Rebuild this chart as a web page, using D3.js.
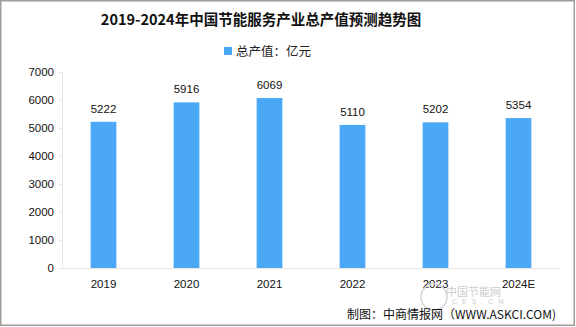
<!DOCTYPE html>
<html><head><meta charset="utf-8">
<script src="https://cdn.jsdelivr.net/npm/d3@7"></script>
<style>body{margin:0;background:#fff}svg{display:block}</style>
</head><body>
<script>
const categories = ["2019","2020","2021","2022","2023","2024E"];
const values = [5222,5916,6069,5110,5202,5354];
const yTicks = [0,1000,2000,3000,4000,5000,6000,7000];
const title = "2019-2024年中国节能服务产业总产值预测趋势图";
const legendLabel = "总产值：亿元";
const source = "制图：中商情报网（WWW.ASKCI.COM)";

const W=576,H=327;
const svg=d3.select("body").append("svg").attr("width",W).attr("height",H);
svg.append("rect").attr("x",0.75).attr("y",0.75).attr("width",W-2.5).attr("height",H-2.5)
  .attr("fill","#fff").attr("stroke","#a09d99").attr("stroke-width",1.5);

const x=d3.scaleBand().domain(categories).range([62,560]).paddingInner(0.69).paddingOuter(0.345);
const y=d3.scaleLinear().domain([0,7000]).range([268,72]);
const cjk="'Noto Sans CJK SC','Noto Sans',sans-serif";
const num="'Liberation Sans',Arial,sans-serif";

svg.append("text").attr("x",261).attr("y",25).attr("text-anchor","middle")
  .attr("font-family",cjk).attr("font-weight","bold").attr("font-size",14.5).attr("fill","#111").text(title);

const lg=svg.append("g");
lg.append("rect").attr("x",224).attr("y",47).attr("width",8).attr("height",8).attr("fill","#4BA8F7");
lg.append("text").attr("x",236).attr("y",56).attr("font-family",cjk).attr("font-size",12.5).attr("fill","#222").text(legendLabel);

// axes
const ya=svg.append("g").attr("transform","translate(62,0)")
  .call(d3.axisLeft(y).tickValues(yTicks).tickSize(3).tickFormat(d3.format("d")));
ya.select(".domain").attr("stroke","#ece6dc");
ya.selectAll(".tick line").attr("stroke","#ece6dc");
ya.selectAll("text").attr("font-family",num).attr("font-size",11.5).attr("fill","#111").attr("dx",-2);

const xa=svg.append("g").attr("transform","translate(0,268)")
  .call(d3.axisBottom(x).tickSize(0).tickPadding(12));
xa.select(".domain").attr("stroke","#ece6dc").attr("d","M62,0.5H560");
xa.selectAll("text").attr("font-family",num).attr("font-size",11.5).attr("fill","#111");

svg.append("g").selectAll("rect").data(values).join("rect")
  .attr("x",(d,i)=>x(categories[i])).attr("width",x.bandwidth())
  .attr("y",d=>y(d)).attr("height",d=>y(0)-y(d)).attr("fill","#4BA8F7");

svg.append("g").selectAll("text").data(values).join("text")
  .attr("x",(d,i)=>x(categories[i])+x.bandwidth()/2).attr("y",d=>y(d)-9)
  .attr("text-anchor","middle").attr("font-family",num).attr("font-size",11.5).attr("fill","#111").text(d=>d);

// watermark
const wm=svg.append("g").attr("fill","#cdcdcd").attr("font-family",cjk);
wm.append("circle").attr("cx",434).attr("cy",297).attr("r",13).attr("fill","none").attr("stroke","#d4d4d4").attr("stroke-width",1.5);
wm.append("text").attr("x",446).attr("y",296).attr("font-size",11).text("中国节能网");
wm.append("text").attr("x",452).attr("y",304).attr("font-size",7).attr("letter-spacing",5).attr("font-family",num).text("CES.CN");

svg.append("text").attr("x",556).attr("y",319).attr("text-anchor","end")
  .attr("font-family",cjk).attr("font-size",12).attr("fill","#111").text(source);
</script>
</body></html>
